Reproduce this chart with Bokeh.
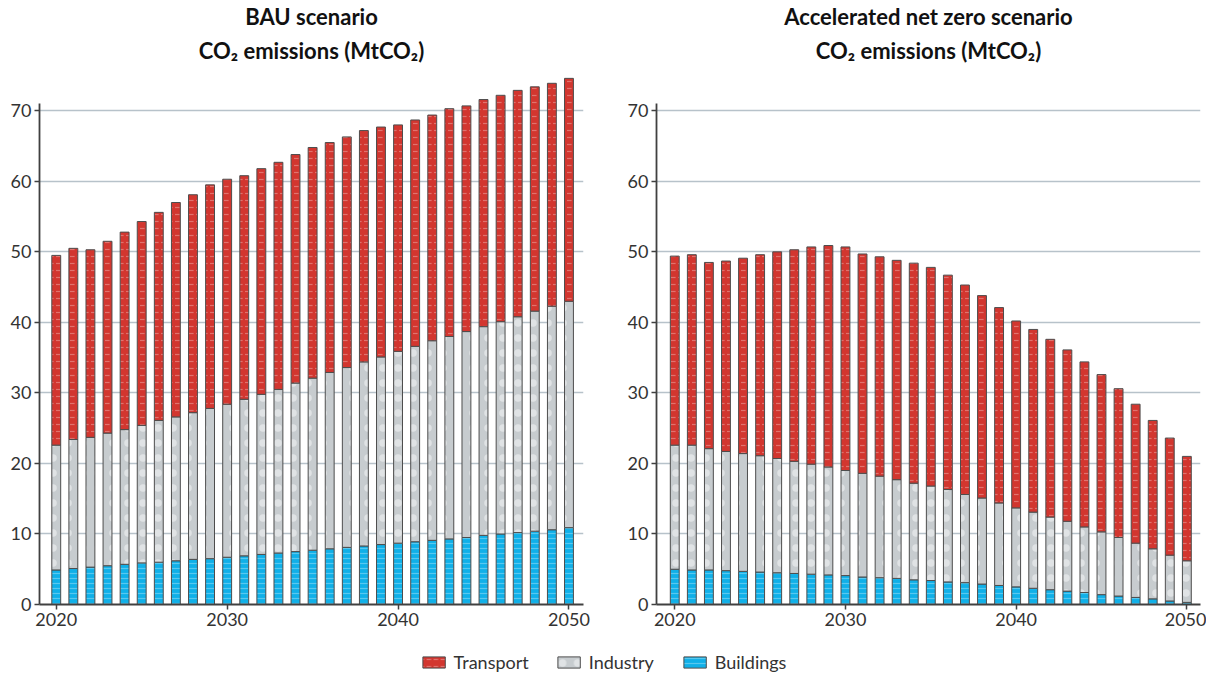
from bokeh.plotting import figure
from bokeh.models import ColumnDataSource, Range1d, FixedTicker, Legend, LegendItem, Title
from bokeh.layouts import column, row
from bokeh.embed import file_html
from bokeh.resources import INLINE

years = list(range(2020, 2051))
categories = ["Transport", "Industry", "Buildings"]

bau_buildings = [4.9, 5.1, 5.3, 5.5, 5.7, 5.9, 6.0, 6.2, 6.4, 6.5, 6.7, 6.9, 7.1, 7.3, 7.5, 7.7,
                 7.9, 8.1, 8.3, 8.5, 8.7, 8.9, 9.1, 9.3, 9.5, 9.8, 10.0, 10.2, 10.4, 10.6, 10.9]
bau_industry = [17.7, 18.3, 18.4, 18.8, 19.1, 19.5, 20.1, 20.4, 20.8, 21.3, 21.7, 22.2, 22.7, 23.2,
                23.9, 24.4, 25.0, 25.5, 26.1, 26.6, 27.2, 27.7, 28.3, 28.7, 29.2, 29.6, 30.1, 30.6,
                31.2, 31.7, 32.1]
bau_transport = [26.9, 27.1, 26.6, 27.2, 28.0, 28.9, 29.5, 30.4, 30.9, 31.7, 31.9, 31.7, 32.0, 32.2,
                 32.4, 32.7, 32.6, 32.7, 32.8, 32.6, 32.1, 32.1, 32.0, 32.3, 32.0, 32.2, 32.1, 32.1,
                 31.8, 31.6, 31.6]

nz_buildings = [5.0, 4.9, 4.9, 4.8, 4.7, 4.6, 4.5, 4.4, 4.3, 4.2, 4.1, 3.9, 3.8, 3.7, 3.5, 3.4,
                3.2, 3.1, 2.9, 2.7, 2.5, 2.3, 2.1, 1.9, 1.7, 1.4, 1.2, 1.0, 0.8, 0.5, 0.3]
nz_industry = [17.6, 17.7, 17.2, 16.9, 16.7, 16.5, 16.2, 15.9, 15.6, 15.3, 14.9, 14.7, 14.4, 14.0,
               13.7, 13.4, 13.1, 12.5, 12.2, 11.7, 11.2, 10.8, 10.3, 9.9, 9.3, 8.9, 8.3, 7.7, 7.1,
               6.5, 5.9]
nz_transport = [26.8, 27.0, 26.4, 27.0, 27.7, 28.5, 29.3, 30.0, 30.8, 31.4, 31.7, 31.1, 31.1, 31.1,
                31.2, 31.0, 30.4, 29.7, 28.7, 27.7, 26.5, 25.9, 25.2, 24.3, 23.4, 22.3, 21.1, 19.7,
                18.2, 16.6, 14.8]

x_ticks = [2020, 2030, 2040, 2050]
y_ticks = [0, 10, 20, 30, 40, 50, 60, 70]

FONT = "Lato"
COLORS = {"Transport": "#d2362f", "Industry": "#c7cccf", "Buildings": "#10b0e8"}
HATCH = {"Transport": ("horizontal_dash", 7, 0.3),
         "Industry": ("dot", 15, 0.45),
         "Buildings": ("horizontal_line", 5, 0.3)}
OUTLINE = "#4d4d4d"
STACK = ["Buildings", "Industry", "Transport"]


def style_kwargs(names):
    return dict(
        fill_color=[COLORS[n] for n in names],
        hatch_pattern=[HATCH[n][0] for n in names],
        hatch_scale=[HATCH[n][1] for n in names],
        hatch_alpha=[HATCH[n][2] for n in names],
    )


def title_style(t, standoff):
    t.align = "center"
    t.text_font = FONT
    t.text_font_style = "bold"
    t.text_font_size = "22px"
    t.text_color = "#111111"
    t.standoff = standoff


def make_chart(line1, line2, buildings, industry, transport, x_start, x_end, width, mbl, mbr):
    src = ColumnDataSource(dict(year=years, Buildings=buildings, Industry=industry,
                                Transport=transport))
    p = figure(width=width, height=648, output_backend="svg", toolbar_location=None,
               x_range=Range1d(x_start, x_end), y_range=Range1d(0, 76),
               min_border_left=mbl, min_border_right=mbr, min_border_top=67,
               min_border_bottom=44)
    p.vbar_stack(STACK, x="year", width=0.52, source=src, line_color=OUTLINE,
                 line_width=1, hatch_color="white", hatch_weight=1.2,
                 **style_kwargs(STACK))
    p.title.text = line1
    title_style(p.title, 0)
    t2 = Title(text=line2)
    title_style(t2, 10)
    p.add_layout(t2, "above")
    p.outline_line_color = None
    p.xgrid.visible = False
    p.ygrid.grid_line_color = "#b7c2ca"
    p.ygrid.grid_line_width = 1.5
    p.ygrid.ticker = FixedTicker(ticks=y_ticks[1:])
    p.xaxis.ticker = FixedTicker(ticks=x_ticks)
    p.yaxis.ticker = FixedTicker(ticks=y_ticks)
    p.yaxis.bounds = (0, 71)
    for ax in (p.xaxis[0], p.yaxis[0]):
        ax.axis_line_color = "#404040"
        ax.axis_line_width = 1.8
        ax.major_tick_line_color = "#404040"
        ax.major_tick_line_width = 1.5
        ax.major_tick_out = 5
        ax.major_tick_in = 0
        ax.minor_tick_line_color = None
        ax.major_label_text_font = FONT
        ax.major_label_text_font_size = "18px"
        ax.major_label_text_color = "#333333"
        ax.major_label_standoff = 3
    return p


p1 = make_chart("BAU scenario", "CO₂ emissions (MtCO₂)", bau_buildings, bau_industry,
                bau_transport, 2019.02, 2050.85, 608, 39, 25)
p2 = make_chart("Accelerated net zero scenario", "CO₂ emissions (MtCO₂)", nz_buildings,
                nz_industry, nz_transport, 2018.93, 2050.8, 598, 48, 6)

# legend strip: proxy renderers sit outside the visible range, only their legend glyphs show
lg = figure(width=1206, height=25, output_backend="svg", toolbar_location=None,
            x_range=Range1d(0, 1), y_range=Range1d(0, 1), min_border=0)
lg.axis.visible = False
lg.grid.visible = False
lg.outline_line_color = None
proxy_vals = {"Transport": bau_transport, "Industry": bau_industry, "Buildings": bau_buildings}
items = []
for n in categories:
    r = lg.vbar(x=[years[0]], top=[proxy_vals[n][0]], width=0.5, fill_color=COLORS[n],
                line_color=OUTLINE, line_width=1, hatch_color="white",
                hatch_pattern=HATCH[n][0], hatch_scale=HATCH[n][1], hatch_alpha=HATCH[n][2],
                hatch_weight=1.2)
    items.append(LegendItem(label=n, renderers=[r]))
legend = Legend(items=items, orientation="horizontal", location="bottom_center",
                border_line_color=None, background_fill_alpha=0, padding=0, margin=0,
                spacing=26, glyph_width=28, glyph_height=14, label_height=20,
                label_width=66, label_standoff=6, label_text_font=FONT,
                label_text_font_size="18px", label_text_color="#333333")
lg.add_layout(legend, "center")

layout = column(row(p1, p2), lg)
open("out.html", "w").write(file_html(layout, INLINE))
